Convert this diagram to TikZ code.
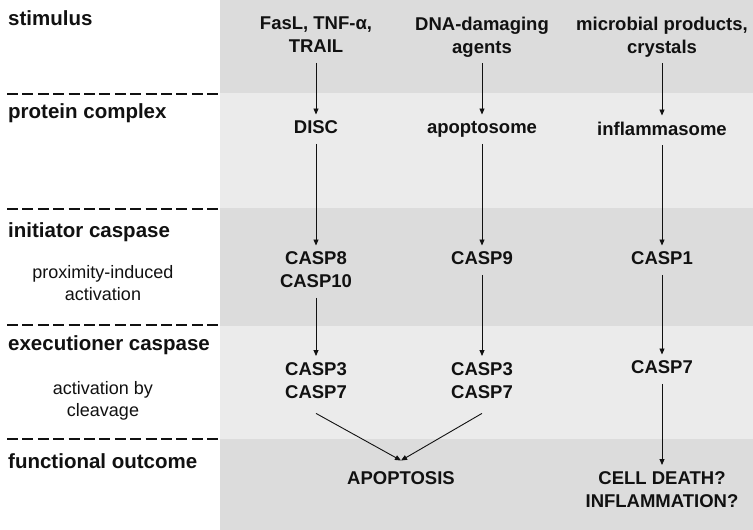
\documentclass[tikz,border=0pt]{standalone}
\usepackage{fontspec}
\setmainfont{Liberation Sans}
\usetikzlibrary{arrows.meta}
\definecolor{bandA}{RGB}{220,220,220}
\definecolor{bandB}{RGB}{235,235,235}
\definecolor{ink}{RGB}{17,17,17}
\newcommand{\cst}{\rule[-4pt]{0pt}{17pt}}
\begin{document}
\begin{tikzpicture}[x=1pt,y=-1pt,
  coltxt/.style={font=\fontsize{18.5}{23}\selectfont\bfseries, text=ink, align=center, inner xsep=2pt, inner ysep=6pt, anchor=north},
  ttl/.style={font=\fontsize{20.5}{24}\selectfont\bfseries, text=ink, anchor=base west, inner sep=0pt},
  sub/.style={font=\fontsize{18}{22}\selectfont, text=ink, align=center, anchor=north, inner sep=0pt},
  arr/.style={-{Triangle[length=6pt,width=5pt]}, line width=0.9pt, draw=ink},
  sep/.style={line width=1.6pt, draw=ink, dash pattern=on 11pt off 4.4pt}]
\useasboundingbox (0,0) rectangle (753,530);
\fill[white] (0,0) rectangle (753,530);
% bands
\fill[bandA] (220,0) rectangle (753,93);
\fill[bandB] (220,93) rectangle (753,208);
\fill[bandA] (220,208) rectangle (753,326);
\fill[bandB] (220,326) rectangle (753,439);
\fill[bandA] (220,439) rectangle (753,530);
% separators
\foreach \yy in {94,209,325,439} \draw[sep] (7,\yy) -- (220,\yy);
% row titles
\node[ttl] (t1) at (8,25) {stimulus};
\node[ttl] (t2) at (8,118) {protein complex};
\node[ttl] (t3) at (8,237) {initiator caspase};
\node[ttl] (t4) at (8,350) {executioner caspase};
\node[ttl] (t5) at (8,468) {functional outcome};
\node[sub] (u1) at (103,265) {\cst proximity-induced\\\cst activation};
\node[sub] (u2) at (103,381) {\cst activation by\\\cst cleavage};
% column texts
\node[coltxt] (s1) at (316,10.5) {\cst FasL, TNF-α,\\\cst TRAIL};
\node[coltxt] (s2) at (482,10.5) {\cst DNA-damaging\\\cst agents};
\node[coltxt] (s3) at (662,10.5) {\cst microbial products,\\\cst crystals};
\node[coltxt] (p1) at (316,114.5) {\cst DISC};
\node[coltxt] (p2) at (482,114.5) {\cst apoptosome};
\node[coltxt] (p3) at (662,115.5) {\cst inflammasome};
\node[coltxt] (i1) at (316,245.5) {\cst CASP8\\\cst CASP10};
\node[coltxt] (i2) at (482,245.5) {\cst CASP9};
\node[coltxt] (i3) at (662,245.5) {\cst CASP1};
\node[coltxt] (e1) at (316,356) {\cst CASP3\\\cst CASP7};
\node[coltxt] (e2) at (482,356) {\cst CASP3\\\cst CASP7};
\node[coltxt] (e3) at (662,354.5) {\cst CASP7};
\node[coltxt] (apo) at (401,465.5) {\cst APOPTOSIS};
\node[coltxt] (out) at (662,465) {\cst CELL DEATH?\\\cst INFLAMMATION?};
% arrows
\draw[arr] (s1.south) -- (p1.north);
\draw[arr] (s2.south) -- (p2.north);
\draw[arr] (s3.south) -- (p3.north);
\draw[arr] (p1.south) -- (i1.north);
\draw[arr] (p2.south) -- (i2.north);
\draw[arr] (p3.south) -- (i3.north);
\draw[arr] (i1.south) -- (e1.north);
\draw[arr] (i2.south) -- (e2.north);
\draw[arr] (i3.south) -- (e3.north);
\draw[arr] ([yshift=-5pt]e1.south) -- ([yshift=5pt]apo.north);
\draw[arr] ([yshift=-5pt]e2.south) -- ([yshift=5pt]apo.north);
\draw[arr] (e3.south) -- (out.north);
\end{tikzpicture}
\end{document}
